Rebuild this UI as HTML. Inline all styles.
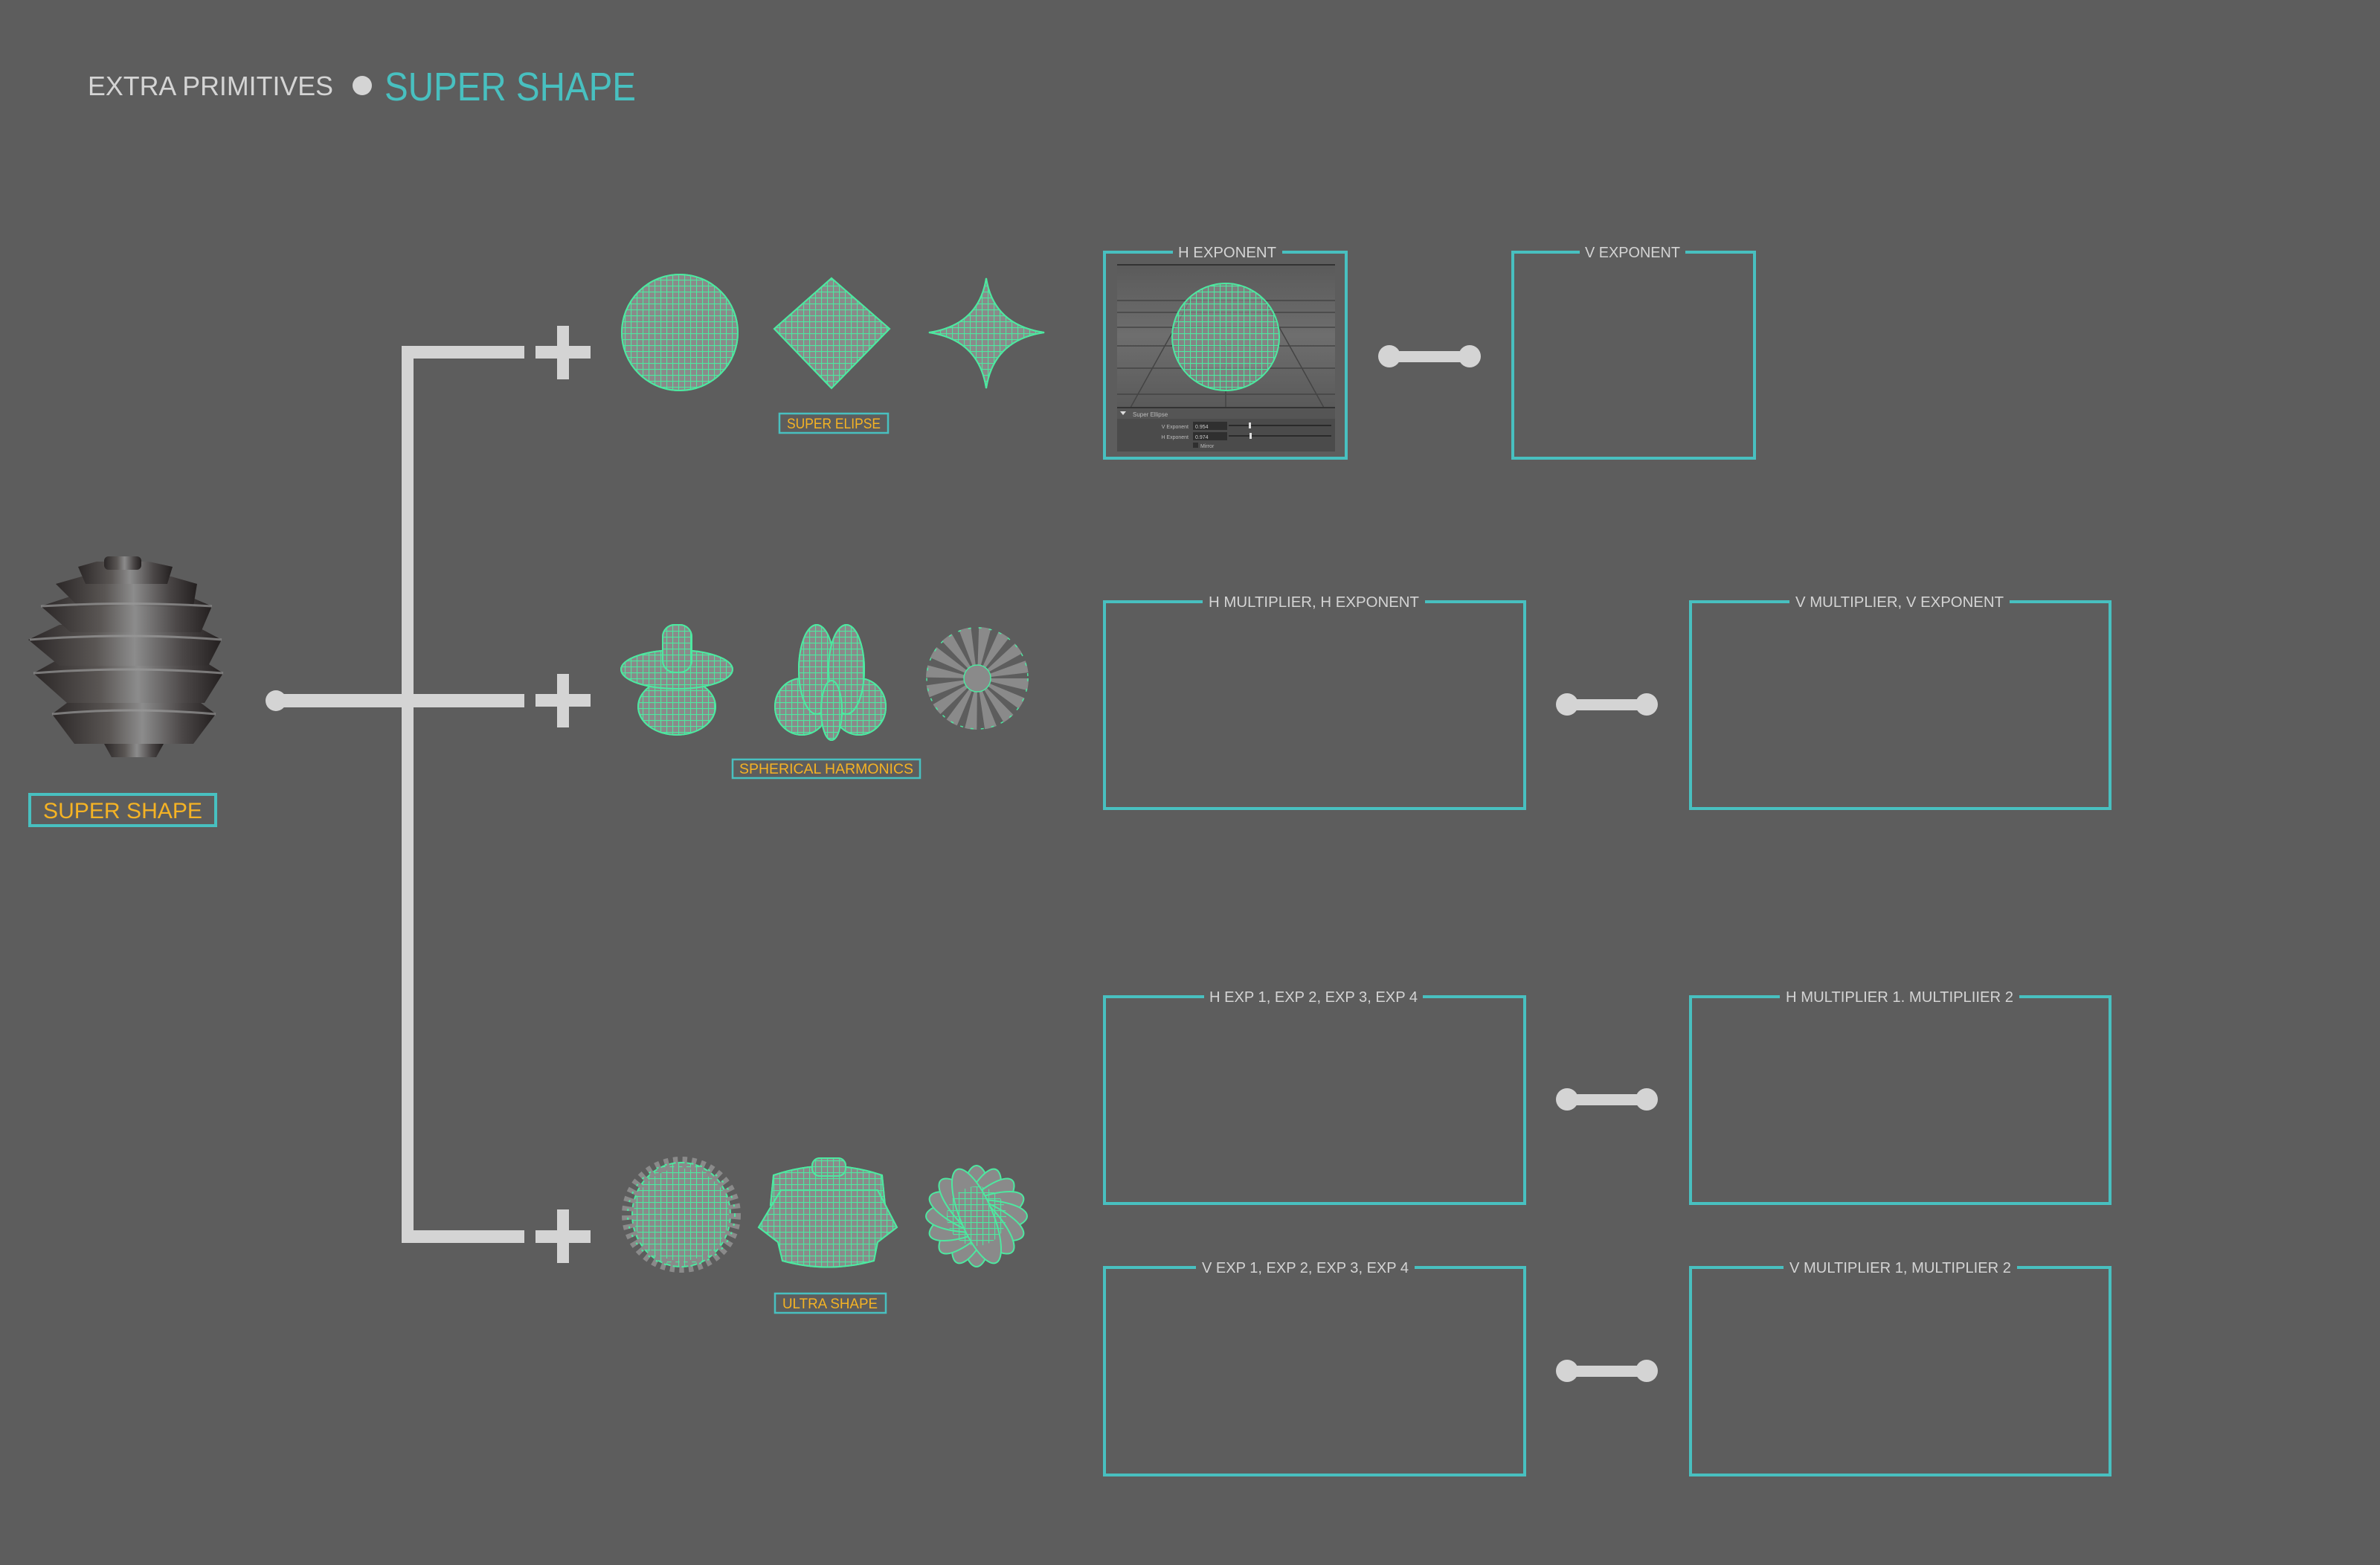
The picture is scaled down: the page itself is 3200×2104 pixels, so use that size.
<!DOCTYPE html>
<html><head><meta charset="utf-8"><style>
html,body{margin:0;padding:0;background:#5d5d5d;}
svg{display:block;font-family:"Liberation Sans",sans-serif;}
</style></head><body>
<svg width="3200" height="2104" viewBox="0 0 3200 2104" xmlns="http://www.w3.org/2000/svg">
<defs>
<pattern id="wf" width="8" height="8" patternUnits="userSpaceOnUse">
<path d="M0 0.5H8M0.5 0V8" stroke="#4de8a0" stroke-width="1.2" fill="none"/>
</pattern>
<pattern id="wf2" width="14" height="14" patternUnits="userSpaceOnUse">
<path d="M0 0.5H14M0.5 0V14" stroke="#4de8a0" stroke-width="1.3" fill="none"/>
</pattern>
<linearGradient id="cone" x1="0" x2="1" y1="0" y2="0">
<stop offset="0" stop-color="#2b2727"/><stop offset="0.35" stop-color="#5a5654"/><stop offset="0.55" stop-color="#8c8c8c"/><stop offset="0.8" stop-color="#4a4646"/><stop offset="1" stop-color="#231f1f"/>
</linearGradient>
<linearGradient id="vp" x1="0" x2="0" y1="0" y2="1">
<stop offset="0" stop-color="#5a5a5a"/><stop offset="0.5" stop-color="#6e6e6e"/><stop offset="1" stop-color="#5a5a5a"/>
</linearGradient>
</defs>
<rect width="3200" height="2104" fill="#5d5d5d"/>

<!-- title -->
<text x="118" y="128" font-size="36" fill="#d4d4d4" textLength="330" lengthAdjust="spacingAndGlyphs">EXTRA PRIMITIVES</text>
<circle cx="487" cy="115" r="13" fill="#d4d4d4"/>
<text x="517" y="135" font-size="54" fill="#48c0c0" textLength="338" lengthAdjust="spacingAndGlyphs">SUPER SHAPE</text>

<!-- super shape pine cone -->
<g fill="url(#cone)">
<path d="M70 960 L100 1000 L260 1000 L290 960 L250 930 L110 930Z"/>
<path d="M140 1000 L150 1018 L210 1018 L220 1000Z"/>
<path d="M45 905 L90 945 L275 945 L300 905 L260 880 L90 880Z"/>
<path d="M38 860 L80 895 L280 895 L298 860 L260 840 L80 840Z"/>
<path d="M55 815 L95 850 L270 850 L285 815 L250 800 L100 800Z"/>
<path d="M75 785 L105 815 L260 815 L265 785 L230 775 L110 775Z"/>
<path d="M105 762 L115 785 L225 785 L232 762 L200 755 L130 755Z"/>
<rect x="140" y="748" width="50" height="18" rx="6"/>
</g>
<g stroke="#9a9a9a" stroke-width="3" fill="none" opacity="0.7">
<path d="M40 860 Q170 850 298 860"/><path d="M45 905 Q170 895 300 905"/><path d="M70 960 Q170 950 290 960"/><path d="M55 815 Q170 808 285 815"/>
</g>
<rect x="40" y="1068" width="250" height="42" fill="none" stroke="#48c0c0" stroke-width="4"/>
<text x="165" y="1100" font-size="30" fill="#f5b324" text-anchor="middle" textLength="214" lengthAdjust="spacingAndGlyphs">SUPER SHAPE</text>

<!-- tree -->
<g fill="#d4d4d4">
<circle cx="371" cy="942" r="14"/>
<rect x="371" y="933" width="334" height="18"/>
<rect x="540" y="465" width="16" height="1206"/>
<rect x="540" y="465" width="165" height="17"/>
<rect x="540" y="1654" width="165" height="17"/>
<!-- plus signs -->
<rect x="749" y="438" width="16" height="72"/><rect x="720" y="465" width="74" height="17"/>
<rect x="749" y="906" width="16" height="72"/><rect x="720" y="933" width="74" height="17"/>
<rect x="749" y="1626" width="16" height="72"/><rect x="720" y="1654" width="74" height="17"/>
</g>

<!-- row1 shapes -->
<g stroke="#4de8a0" stroke-width="2">
<circle cx="914" cy="447" r="78" fill="#8a8a8a"/>
<circle cx="914" cy="447" r="78" fill="url(#wf)"/>
<path d="M1118 374 L1196 442 L1118 522 L1041 442Z" fill="#8a8a8a"/>
<path d="M1118 374 L1196 442 L1118 522 L1041 442Z" fill="url(#wf)"/>
<path d="M1326 374 Q1336 437 1404 447 Q1336 457 1326 522 Q1316 457 1249 447 Q1316 437 1326 374Z" fill="#8a8a8a"/>
<path d="M1326 374 Q1336 437 1404 447 Q1336 457 1326 522 Q1316 457 1249 447 Q1316 437 1326 374Z" fill="url(#wf)"/>
</g>
<rect x="1048" y="556" width="146" height="26" fill="none" stroke="#48c0c0" stroke-width="2.5"/>
<text x="1121" y="576" font-size="19" fill="#f5b324" text-anchor="middle" textLength="126" lengthAdjust="spacingAndGlyphs">SUPER ELIPSE</text>

<!-- row2 shapes -->
<g stroke="#4de8a0" stroke-width="2">
<ellipse cx="910" cy="950" rx="52" ry="38" fill="#8a8a8a"/><ellipse cx="910" cy="950" rx="52" ry="38" fill="url(#wf)"/>
<ellipse cx="910" cy="900" rx="75" ry="26" fill="#8a8a8a"/><ellipse cx="910" cy="900" rx="75" ry="26" fill="url(#wf)"/>
<rect x="891" y="840" width="39" height="64" rx="16" fill="#8a8a8a"/><rect x="891" y="840" width="39" height="64" rx="16" fill="url(#wf)"/>
<ellipse cx="1078" cy="950" rx="36" ry="38" fill="#8a8a8a"/><ellipse cx="1078" cy="950" rx="36" ry="38" fill="url(#wf)"/>
<ellipse cx="1155" cy="950" rx="36" ry="38" fill="#8a8a8a"/><ellipse cx="1155" cy="950" rx="36" ry="38" fill="url(#wf)"/>
<ellipse cx="1098" cy="900" rx="24" ry="60" fill="#8a8a8a"/><ellipse cx="1098" cy="900" rx="24" ry="60" fill="url(#wf)"/>
<ellipse cx="1138" cy="900" rx="24" ry="60" fill="#8a8a8a"/><ellipse cx="1138" cy="900" rx="24" ry="60" fill="url(#wf)"/>
<ellipse cx="1118" cy="955" rx="14" ry="40" fill="#8a8a8a"/><ellipse cx="1118" cy="955" rx="14" ry="40" fill="url(#wf)"/>
</g>
<circle cx="1314" cy="912" r="38" fill="none" stroke="#8a8a8a" stroke-width="62" stroke-dasharray="9 6"/>
<circle cx="1314" cy="912" r="18" fill="#8a8a8a" stroke="#4de8a0" stroke-width="1.5"/>
<circle cx="1314" cy="912" r="68" fill="none" stroke="#4de8a0" stroke-width="1.5" stroke-dasharray="4 10"/>
<rect x="985" y="1021" width="252" height="25" fill="none" stroke="#48c0c0" stroke-width="2.5"/>
<text x="1111" y="1040" font-size="19" fill="#f5b324" text-anchor="middle" textLength="234" lengthAdjust="spacingAndGlyphs">SPHERICAL HARMONICS</text>

<!-- row3 shapes -->
<ellipse cx="916" cy="1633" rx="66" ry="70" fill="#8a8a8a" stroke="#4de8a0" stroke-width="2"/>
<ellipse cx="916" cy="1633" rx="66" ry="70" fill="url(#wf)"/>
<ellipse cx="916" cy="1633" rx="72" ry="70" fill="none" stroke="#8a8a8a" stroke-width="16" stroke-dasharray="6 6"/>
<ellipse cx="916" cy="1633" rx="72" ry="70" fill="none" stroke="#4de8a0" stroke-width="2" stroke-dasharray="3 9"/>
<g stroke="#4de8a0" stroke-width="2">
<path d="M1040 1580 Q1113 1555 1186 1580 L1190 1620 Q1113 1600 1036 1620Z" fill="#8a8a8a"/>
<path d="M1040 1580 Q1113 1555 1186 1580 L1190 1620 Q1113 1600 1036 1620Z" fill="url(#wf)"/>
<path d="M1050 1600 L1180 1600 L1206 1650 L1180 1670 L1175 1695 Q1113 1712 1052 1695 L1046 1670 L1020 1650Z" fill="#8a8a8a"/>
<path d="M1050 1600 L1180 1600 L1206 1650 L1180 1670 L1175 1695 Q1113 1712 1052 1695 L1046 1670 L1020 1650Z" fill="url(#wf)"/>
<rect x="1092" y="1557" width="45" height="24" rx="10" fill="#8a8a8a"/><rect x="1092" y="1557" width="45" height="24" rx="10" fill="url(#wf)"/>
</g>
<g stroke="#4de8a0" stroke-width="2" fill="#8a8a8a">
<g transform="translate(1313 1635)">
<ellipse rx="22" ry="68" transform="rotate(0)"/><ellipse rx="22" ry="68" transform="rotate(22.5)"/><ellipse rx="22" ry="68" transform="rotate(45)"/><ellipse rx="22" ry="68" transform="rotate(67.5)"/><ellipse rx="22" ry="68" transform="rotate(90)"/><ellipse rx="22" ry="68" transform="rotate(112.5)"/><ellipse rx="22" ry="68" transform="rotate(135)"/><ellipse rx="22" ry="68" transform="rotate(157.5)"/>
<circle r="40" fill="url(#wf)" stroke="none"/>
</g></g>
<rect x="1042" y="1739" width="149" height="26" fill="none" stroke="#48c0c0" stroke-width="2.5"/>
<text x="1116" y="1759" font-size="19" fill="#f5b324" text-anchor="middle" textLength="128" lengthAdjust="spacingAndGlyphs">ULTRA SHAPE</text>

<!-- H EXPONENT box with viewport -->
<rect x="1502" y="355" width="293" height="193" fill="url(#vp)"/>
<line x1="1502" y1="356" x2="1795" y2="356" stroke="#333" stroke-width="2"/>
<g stroke="#444" stroke-width="1.5">
<line x1="1502" y1="404" x2="1795" y2="404"/><line x1="1502" y1="420" x2="1795" y2="420"/><line x1="1502" y1="440" x2="1795" y2="440"/><line x1="1502" y1="465" x2="1795" y2="465"/><line x1="1502" y1="495" x2="1795" y2="495"/><line x1="1502" y1="530" x2="1795" y2="530"/>
<line x1="1648" y1="460" x2="1648" y2="548"/><line x1="1600" y1="404" x2="1520" y2="548"/><line x1="1700" y1="404" x2="1780" y2="548"/>
</g>
<line x1="1502" y1="548" x2="1795" y2="548" stroke="#333" stroke-width="2"/>
<ellipse cx="1648" cy="453" rx="72" ry="72" fill="#999" fill-opacity="0.55" stroke="#4de8a0" stroke-width="2"/>
<ellipse cx="1648" cy="453" rx="72" ry="72" fill="url(#wf)"/>
<rect x="1502" y="549" width="293" height="14" fill="#555"/>
<path d="M1506 553 L1514 553 L1510 558Z" fill="#ddd"/>
<text x="1523" y="560" font-size="8" fill="#bbb">Super Ellipse</text>
<rect x="1502" y="563" width="293" height="44" fill="#4b4b4b"/>
<text x="1598" y="576" font-size="7" fill="#bbb" text-anchor="end">V Exponent</text>
<text x="1598" y="590" font-size="7" fill="#bbb" text-anchor="end">H Exponent</text>
<rect x="1604" y="567" width="46" height="11" fill="#2f2f2f"/><rect x="1604" y="581" width="46" height="11" fill="#2f2f2f"/>
<text x="1607" y="576" font-size="7" fill="#ccc">0.954</text><text x="1607" y="590" font-size="7" fill="#ccc">0.974</text>
<rect x="1652" y="571" width="138" height="2" fill="#2a2a2a"/><rect x="1652" y="585" width="138" height="2" fill="#2a2a2a"/>
<rect x="1679" y="568" width="3" height="8" fill="#ddd"/><rect x="1680" y="582" width="3" height="8" fill="#ddd"/>
<rect x="1604" y="595" width="7" height="7" fill="#2f2f2f"/><text x="1614" y="602" font-size="7" fill="#bbb">Mirror</text>

<!-- boxes -->
<g fill="none" stroke="#48c0c0" stroke-width="4">
<rect x="1485" y="339" width="325" height="277"/>
<rect x="2034" y="339" width="325" height="277"/>
<rect x="1485" y="809" width="565" height="278"/>
<rect x="2273" y="809" width="564" height="278"/>
<rect x="1485" y="1340" width="565" height="278"/>
<rect x="2273" y="1340" width="564" height="278"/>
<rect x="1485" y="1704" width="565" height="279"/>
<rect x="2273" y="1704" width="564" height="279"/>
</g>
<g fill="#5d5d5d">
<rect x="1577" y="332" width="147" height="14"/>
<rect x="2124" y="332" width="142" height="14"/>
<rect x="1617" y="802" width="299" height="14"/>
<rect x="2406" y="802" width="296" height="14"/>
<rect x="1619" y="1333" width="294" height="14"/>
<rect x="2393" y="1333" width="322" height="14"/>
<rect x="1608" y="1697" width="294" height="14"/>
<rect x="2398" y="1697" width="314" height="14"/>
</g>
<g font-size="20" fill="#d4d4d4" lengthAdjust="spacingAndGlyphs">
<text x="1584" y="346" textLength="132" lengthAdjust="spacingAndGlyphs">H EXPONENT</text>
<text x="2131" y="346" textLength="128" lengthAdjust="spacingAndGlyphs">V EXPONENT</text>
<text x="1625" y="816" textLength="283" lengthAdjust="spacingAndGlyphs">H MULTIPLIER, H EXPONENT</text>
<text x="2414" y="816" textLength="280" lengthAdjust="spacingAndGlyphs">V MULTIPLIER, V EXPONENT</text>
<text x="1626" y="1347" textLength="280" lengthAdjust="spacingAndGlyphs">H EXP 1, EXP 2, EXP 3, EXP 4</text>
<text x="2401" y="1347" textLength="306" lengthAdjust="spacingAndGlyphs">H MULTIPLIER 1. MULTIPLIIER 2</text>
<text x="1616" y="1711" textLength="278" lengthAdjust="spacingAndGlyphs">V EXP 1, EXP 2, EXP 3, EXP 4</text>
<text x="2406" y="1711" textLength="298" lengthAdjust="spacingAndGlyphs">V MULTIPLIER 1, MULTIPLIER 2</text>
</g>

<!-- connectors -->
<g fill="#d4d4d4">
<circle cx="1868" cy="479" r="15"/><circle cx="1976" cy="479" r="15"/><rect x="1868" y="472" width="108" height="15"/>
<circle cx="2107" cy="947" r="15"/><circle cx="2214" cy="947" r="15"/><rect x="2107" y="940" width="107" height="15"/>
<circle cx="2107" cy="1478" r="15"/><circle cx="2214" cy="1478" r="15"/><rect x="2107" y="1471" width="107" height="15"/>
<circle cx="2107" cy="1843" r="15"/><circle cx="2214" cy="1843" r="15"/><rect x="2107" y="1836" width="107" height="15"/>
</g>
</svg>
</body></html>
